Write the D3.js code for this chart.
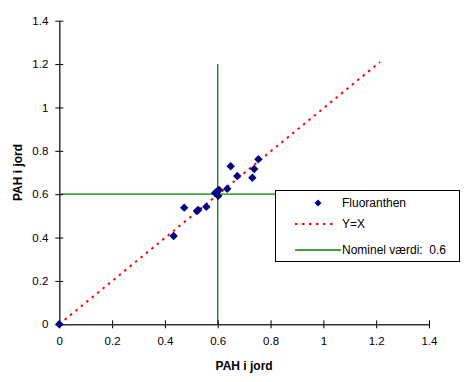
<!DOCTYPE html>
<html><head><meta charset="utf-8">
<script src="https://cdn.jsdelivr.net/npm/d3@7"></script>
<style>body{margin:0;background:#fff}svg{display:block;font-family:"Liberation Sans",Arial,sans-serif}</style>
</head><body>
<svg id="c" width="465" height="382"></svg>
<script>
const seriesName = "Fluoranthen";
const xValues = [0, 0.433, 0.473, 0.521, 0.526, 0.557, 0.596, 0.602, 0.605, 0.590, 0.636, 0.649, 0.674, 0.731, 0.738, 0.754];
const yValues = [0, 0.407, 0.538, 0.522, 0.527, 0.542, 0.611, 0.592, 0.619, 0.605, 0.625, 0.729, 0.684, 0.676, 0.716, 0.761];
const identityLine = [[0, 0], [1.215, 1.21]];
const nominal = 0.6;
const nominalExtent = 1.2;
const ticks = [0, 0.2, 0.4, 0.6, 0.8, 1, 1.2, 1.4];
const legendLabels = ["Fluoranthen", "Y=X", "Nominel værdi:  0.6"];
const axisTitle = "PAH i jord";

const svg = d3.select("#c");
const x = d3.scaleLinear().domain([0, 1.4]).range([59.3, 429]);
const y = d3.scaleLinear().domain([0, 1.4]).range([324.3, 20.7]);
const fmt = d => String(d);

// green nominal lines
svg.append("line").attr("x1", x(nominal)).attr("x2", x(nominal)).attr("y1", y(0)).attr("y2", y(nominalExtent))
  .attr("stroke", "#008000").attr("stroke-width", 1.3);
svg.append("line").attr("x1", x(0)).attr("x2", x(nominalExtent)).attr("y1", y(nominal)).attr("y2", y(nominal))
  .attr("stroke", "#008000").attr("stroke-width", 1.3);

// Y=X dotted
svg.append("path").attr("d", d3.line().x(d => x(d[0])).y(d => y(d[1]))(identityLine))
  .attr("stroke", "#ff0000").attr("stroke-width", 2).attr("fill", "none").attr("stroke-dasharray", "2.5,4.5");

// axes
const xa = svg.append("g").attr("transform", `translate(0,${y(0)})`)
  .call(d3.axisBottom(x).tickValues(ticks).tickFormat(fmt).tickSizeInner(4).tickSizeOuter(0).tickPadding(9));
const ya = svg.append("g").attr("transform", `translate(${x(0)},0)`)
  .call(d3.axisLeft(y).tickValues(ticks).tickFormat(fmt).tickSizeInner(4).tickSizeOuter(0).tickPadding(7));
[xa, ya].forEach(g => {
  g.select(".domain").attr("stroke", "#333").attr("stroke-width", 1.5);
  g.selectAll(".tick line").attr("stroke", "#000");
  g.selectAll("text").attr("font-size", 11.5).attr("fill", "#000").attr("font-family", "Liberation Sans, Arial, sans-serif");
});
xa.selectAll(".tick line").attr("y1", -4).attr("y2", 4);
ya.selectAll(".tick line").attr("x1", -4).attr("x2", 4);

// axis titles
svg.append("text").attr("x", (x(0) + x(1.4)) / 2).attr("y", 370).attr("text-anchor", "middle")
  .attr("font-size", 12).attr("font-weight", "bold").text(axisTitle);
svg.append("text").attr("transform", `translate(22,${(y(0) + y(1.4)) / 2}) rotate(-90)`).attr("text-anchor", "middle")
  .attr("font-size", 12).attr("font-weight", "bold").text(axisTitle);

// points (square diamonds)
const diamond = "M0,-4.2L4.2,0L0,4.2L-4.2,0Z";
svg.append("g").selectAll("path").data(xValues.map((v, i) => [v, yValues[i]])).join("path")
  .attr("d", diamond).attr("transform", d => `translate(${x(d[0])},${y(d[1])})`).attr("fill", "#000080");

// legend
const lg = svg.append("g");
lg.append("rect").attr("x", 275.5).attr("y", 190.5).attr("width", 184).attr("height", 71)
  .attr("fill", "#fff").attr("stroke", "#000").attr("stroke-width", 1);
lg.append("path").attr("d", "M0,-3.5L3.5,0L0,3.5L-3.5,0Z").attr("transform", "translate(318,203)").attr("fill", "#000080");
lg.append("line").attr("x1", 295).attr("x2", 334).attr("y1", 224).attr("y2", 224)
  .attr("stroke", "#ff0000").attr("stroke-width", 2).attr("stroke-dasharray", "2.5,4.5");
lg.append("line").attr("x1", 295).attr("x2", 341).attr("y1", 250).attr("y2", 250)
  .attr("stroke", "#008000").attr("stroke-width", 1.3);
lg.selectAll("text.l").data(legendLabels).join("text").attr("class", "l")
  .attr("x", 342).attr("y", (d, i) => [207, 228, 254][i]).attr("font-size", 12)
  .attr("xml:space", "preserve").style("white-space", "pre").text(d => d);
</script>
</body></html>
